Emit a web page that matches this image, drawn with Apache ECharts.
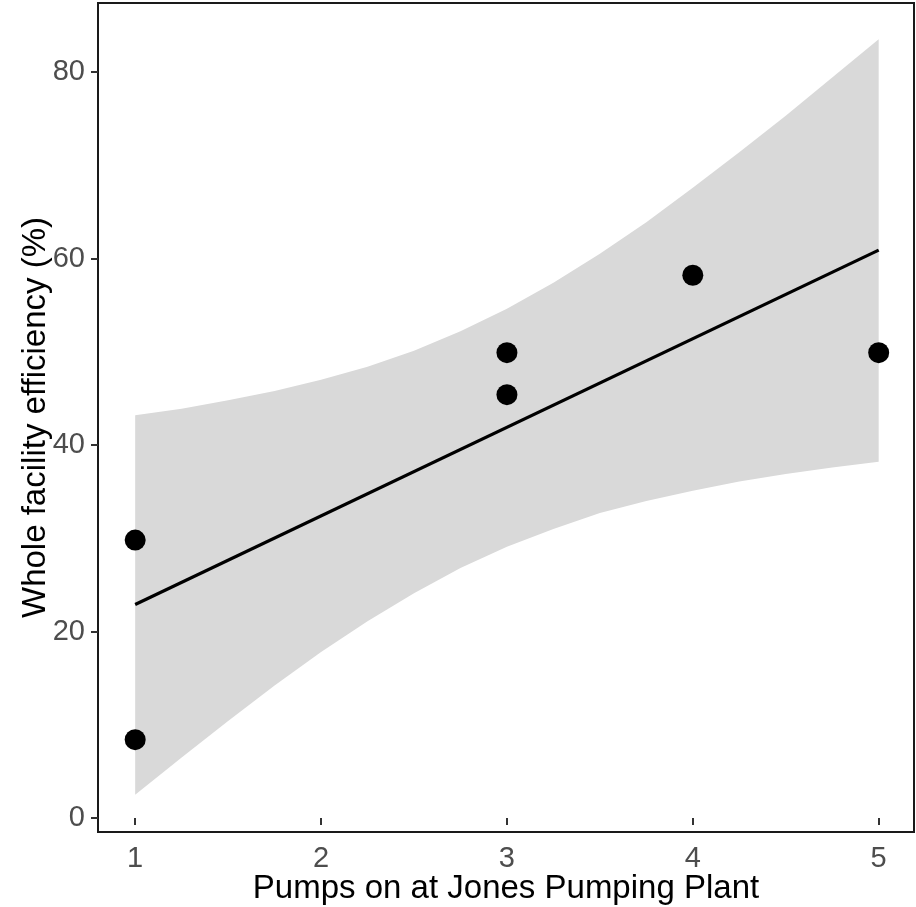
<!DOCTYPE html>
<html>
<head>
<meta charset="utf-8">
<script src="https://cdn.jsdelivr.net/npm/echarts@6/dist/echarts.min.js"></script>
<style>
  html, body { margin: 0; padding: 0; background: #fff; }
  #chart { width: 916px; height: 907px; }
</style>
</head>
<body>
<div id="chart"></div>
<script>
// Observations: pumps running vs. whole facility efficiency
const pumps = [1, 1, 3, 3, 4, 5];
const efficiency = [29.8, 8.4, 49.9, 45.4, 58.2, 49.9];

// Fitted linear trend (endpoints)
const fitX = [1, 5];
const fitY = [22.9, 60.9];

// 95% confidence band of the fit
const bandX     = [1, 1.25, 1.5, 1.75, 2, 2.25, 2.5, 2.75, 3, 3.25, 3.5, 3.75, 4, 4.25, 4.5, 4.75, 5];
const bandLower = [2.5, 6.5, 10.4, 14.2, 17.8, 21.1, 24.1, 26.8, 29.1, 31.0, 32.7, 34.0, 35.1, 36.1, 36.9, 37.6, 38.2];
const bandUpper = [43.2, 43.9, 44.8, 45.8, 47.0, 48.4, 50.1, 52.2, 54.6, 57.4, 60.5, 63.9, 67.6, 71.4, 75.3, 79.4, 83.5];

const xTicks = [1, 2, 3, 4, 5];
const yTicks = [0, 20, 40, 60, 80];

const bandData = bandX.map((x, i) => [x, bandLower[i], bandUpper[i]]);

const chart = echarts.init(document.getElementById('chart'), null, { renderer: 'canvas' });

const tickLabel = { color: '#4d4d4d', fontSize: 29, fontFamily: 'Liberation Sans, Arial, sans-serif' };
const titleText = { color: '#000', fontSize: 33, fontFamily: 'Liberation Sans, Arial, sans-serif' };

chart.setOption({
  animation: false,
  backgroundColor: '#ffffff',
  grid: {
    left: 98, right: 2, top: 3, bottom: 75,
    containLabel: false,
    outerBoundsMode: 'none',
    show: true, borderColor: '#1a1a1a', borderWidth: 2, backgroundColor: 'transparent'
  },
  xAxis: {
    type: 'value',
    min: 0.8, max: 5.19,
    splitLine: { show: false },
    axisLine: { show: false },
    axisTick: { show: true, length: 7, lineStyle: { color: '#333', width: 2 }, customValues: xTicks },
    axisLabel: Object.assign({ margin: 12, customValues: xTicks }, tickLabel),
    name: 'Pumps on at Jones Pumping Plant',
    nameLocation: 'middle',
    nameGap: 40,
    nameMoveOverlap: false,
    nameTextStyle: titleText
  },
  yAxis: {
    type: 'value',
    min: -1.5, max: 87.4,
    splitLine: { show: false },
    axisLine: { show: false },
    axisTick: { show: true, length: 7, lineStyle: { color: '#333', width: 2 }, customValues: yTicks },
    axisLabel: Object.assign({ margin: 13, customValues: yTicks }, tickLabel),
    name: 'Whole facility efficiency (%)',
    nameLocation: 'middle',
    nameGap: 46,
    nameMoveOverlap: false,
    nameTextStyle: titleText
  },
  series: [
    {
      type: 'custom',
      name: 'band',
      data: bandData,
      encode: { x: 0, y: [1, 2] },
      silent: true,
      z: 1,
      renderItem: function (params, api) {
        if (params.dataIndex !== 0) return;
        const upper = bandData.map(d => api.coord([d[0], d[2]]));
        const lower = bandData.slice().reverse().map(d => api.coord([d[0], d[1]]));
        return {
          type: 'polygon',
          shape: { points: upper.concat(lower) },
          style: { fill: '#d9d9d9', stroke: null }
        };
      }
    },
    {
      type: 'line',
      name: 'fit',
      data: fitX.map((x, i) => [x, fitY[i]]),
      showSymbol: false,
      lineStyle: { color: '#000', width: 3.2 },
      z: 2
    },
    {
      type: 'scatter',
      name: 'obs',
      data: pumps.map((x, i) => [x, efficiency[i]]),
      symbolSize: 21,
      itemStyle: { color: '#000', opacity: 1 },
      z: 3
    }
  ]
});
</script>
</body>
</html>
